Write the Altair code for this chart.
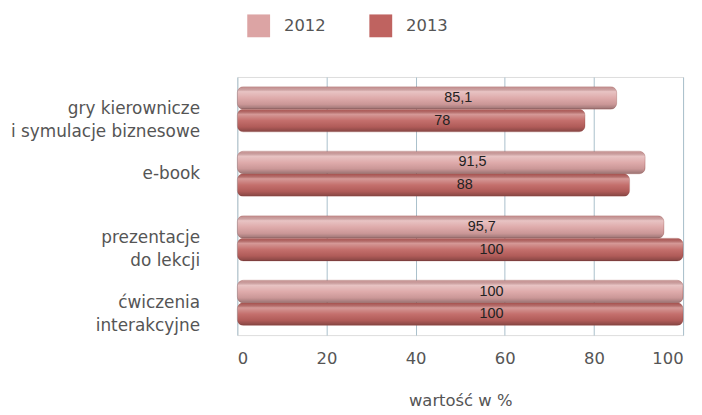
import altair as alt
import pandas as pd

categories = ["gry kierownicze\ni symulacje biznesowe", "e-book", "prezentacje\ndo lekcji", "ćwiczenia\ninterakcyjne"]
series = ["2012", "2013"]
values_2012 = [85.1, 91.5, 95.7, 100]
values_2013 = [78, 88, 100, 100]
colors = ["#dca4a4", "#bf6360"]

rows = []
for c, v1, v2 in zip(categories, values_2012, values_2013):
    rows.append({"kategoria": c, "rok": "2012", "value": v1, "label": f"{v1:g}".replace(".", ",")})
    rows.append({"kategoria": c, "rok": "2013", "value": v2, "label": f"{v2:g}".replace(".", ",")})
df = pd.DataFrame(rows)

FONT = "DejaVu Sans"
TXT = "#555555"

y_enc = alt.Y("kategoria:N", sort=categories,
              scale=alt.Scale(paddingInner=0.3, paddingOuter=0.15),
              axis=alt.Axis(title=None, domain=False, ticks=False, labelFont=FONT,
                            labelFontSize=17, labelColor=TXT, labelPadding=38,
                            labelLimit=300, labelLineHeight=23,
                            labelExpr="split(datum.label, '\\n')"))
yoff = alt.YOffset("rok:N", sort=series, scale=alt.Scale(paddingInner=0, paddingOuter=0))
x_enc = alt.X("value:Q", scale=alt.Scale(domain=[0, 100], nice=False),
              axis=alt.Axis(values=[0, 20, 40, 60, 80, 100], title="wartość w %",
                            labelFont=FONT, labelFontSize=16.5, labelColor=TXT,
                            labelPadding=16, titleFont=FONT, titleFontSize=16.5,
                            titleFontWeight="normal", titleColor=TXT,
                            titlePadding=25, domain=False, ticks=False,
                            grid=True, gridColor="#a9c0cc", gridWidth=1))

base = alt.Chart(df)

bars = base.mark_bar(cornerRadius=6, stroke="#9a4a48", strokeWidth=0.6, strokeOpacity=0.5).encode(
    x=x_enc, y=y_enc, yOffset=yoff,
    color=alt.Color("rok:N", sort=series, scale=alt.Scale(domain=series, range=colors),
                    legend=alt.Legend(title=None, orient="none", legendX=10, legendY=-63,
                                      direction="horizontal", symbolType="square",
                                      symbolSize=529, symbolStrokeWidth=0,
                                      labelFont=FONT, labelFontSize=16.5,
                                      labelColor=TXT, labelOffset=14,
                                      columnPadding=44, symbolOpacity=1)),
)

shade = base.mark_bar(
    cornerRadius=6,
    color=alt.Gradient(
        gradient="linear", x1=0, x2=0, y1=0, y2=1,
        stops=[
            alt.GradientStop(color="rgba(0,0,0,0.06)", offset=0),
            alt.GradientStop(color="rgba(255,255,255,0.35)", offset=0.22),
            alt.GradientStop(color="rgba(255,255,255,0.08)", offset=0.5),
            alt.GradientStop(color="rgba(0,0,0,0.08)", offset=0.78),
            alt.GradientStop(color="rgba(0,0,0,0.3)", offset=1),
        ],
    ),
).encode(x="value:Q", y=alt.Y("kategoria:N", sort=categories), yOffset=yoff)

text = base.transform_calculate(pos="datum.value * 0.5 + 7").mark_text(
    font="Liberation Sans", fontSize=14.5, color="#222222", align="center", baseline="middle"
).encode(x="pos:Q", y=alt.Y("kategoria:N", sort=categories), yOffset=yoff, text="label:N")

chart = alt.layer(bars, shade, text).properties(width=449, height=260).configure_view(
    fill="#f4e8e8", stroke=None
).configure(padding={"left": 2, "top": 5, "right": 10, "bottom": 5})

chart.save("out.html", embed_options={"renderer": "svg", "actions": False})
